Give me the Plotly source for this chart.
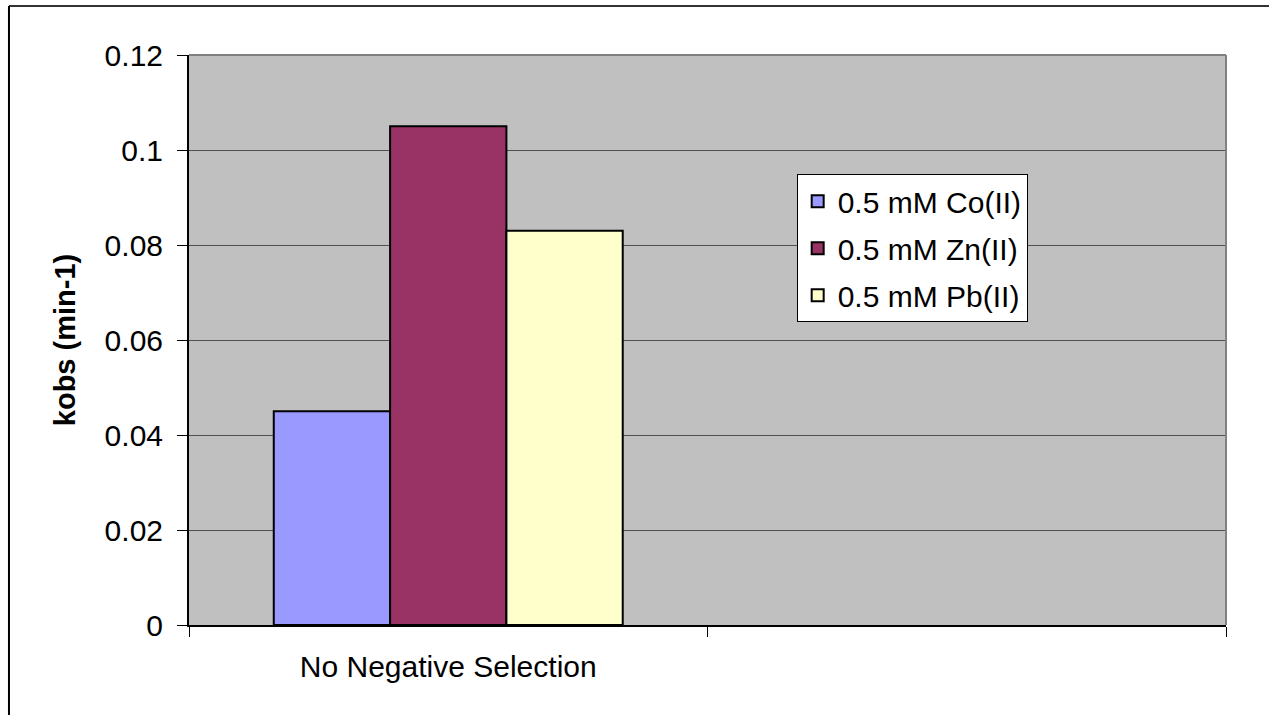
import plotly.graph_objects as go

categories = ["No Negative Selection", " "]
series_names = ["0.5 mM Co(II)", "0.5 mM Zn(II)", "0.5 mM Pb(II)"]
co_values = [0.045, None]
zn_values = [0.105, None]
pb_values = [0.083, None]
series_values = [co_values, zn_values, pb_values]
colors = ["#9999FF", "#993366", "#FFFFCC"]

FONT = "Liberation Sans, Arial, sans-serif"

fig = go.Figure()
for i, (name, vals, col) in enumerate(zip(series_names, series_values, colors)):
    fig.add_trace(go.Bar(
        x=categories, y=vals, name=name, legendgroup=f"g{i}",
        marker=dict(color=col, line=dict(color="black", width=2)),
    ))

fig.update_layout(
    width=1269, height=715,
    margin=dict(l=189, r=43, t=55, b=90),
    paper_bgcolor="white", plot_bgcolor="#C0C0C0",
    barmode="group", bargap=0.327, bargroupgap=0,
    font=dict(family=FONT, size=30, color="black"),
    showlegend=True,
    legend=dict(
        x=0.586, y=0.791, xanchor="left", yanchor="top",
        bgcolor="white", bordercolor="black", borderwidth=1,
        font=dict(size=30), tracegroupgap=5,
    ),
    shapes=[
        # plot area top & right border (gray)
        dict(type="line", xref="paper", yref="paper", x0=0, x1=1, y0=1, y1=1,
             line=dict(color="#808080", width=2)),
        dict(type="line", xref="paper", yref="paper", x0=1, x1=1, y0=0, y1=1,
             line=dict(color="#808080", width=2)),
        # outer chart border
        dict(type="line", xref="paper", yref="paper", x0=-0.1736, x1=1.2, y0=1.086, y1=1.086,
             line=dict(color="#333333", width=2)),
        dict(type="line", xref="paper", yref="paper", x0=-0.1736, x1=-0.1736, y0=1.086, y1=-0.3,
             line=dict(color="black", width=2)),
    ],
)

fig.update_xaxes(
    type="category", categoryorder="array", categoryarray=categories,
    range=[-0.5, 1.5], tickson="boundaries",
    ticks="outside", ticklen=10, tickcolor="black", tickwidth=1,
    showline=True, linecolor="black", linewidth=2,
    showgrid=False, ticklabelstandoff=14,
    tickfont=dict(size=30),
)
fig.update_yaxes(
    range=[0, 0.12], dtick=0.02, tick0=0,
    ticks="outside", ticklen=10, tickcolor="black", tickwidth=1,
    showline=True, linecolor="black", linewidth=2,
    showgrid=True, gridcolor="#505050", gridwidth=1,
    zeroline=False, ticklabelstandoff=8,
    tickfont=dict(size=30),
    title=dict(text="<b>kobs (min-1)</b>", font=dict(size=29), standoff=20),
)

fig.write_html("out.html")
